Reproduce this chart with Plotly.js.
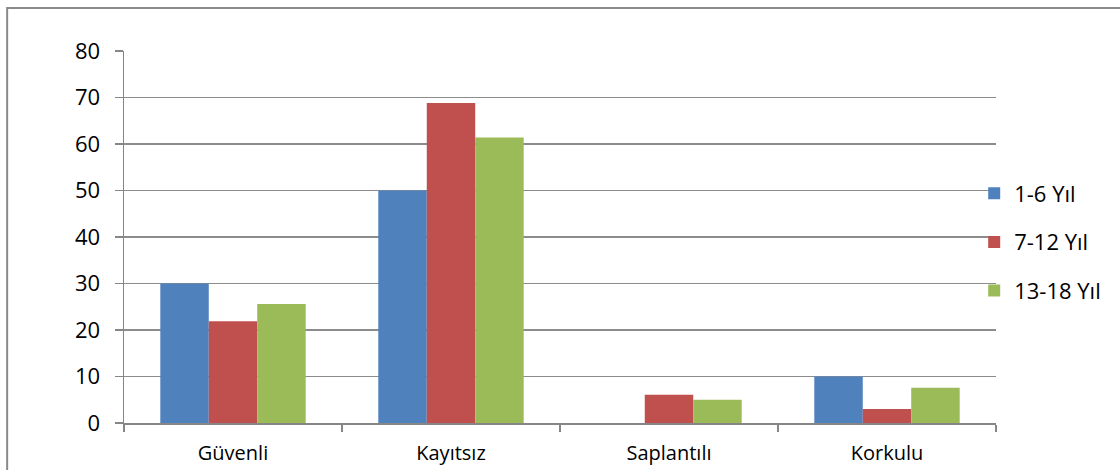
<!DOCTYPE html>
<html>
<head>
<meta charset="utf-8">
<script src="https://cdn.plot.ly/plotly-3.0.1.min.js"></script>
<style>
html,body{margin:0;padding:0;background:#fff;}
#chart{width:1120px;height:470px;}
</style>
</head>
<body>
<div id="chart"></div>
<script>
const categories = ["Güvenli", "Kayıtsız", "Saplantılı", "Korkulu"];
const seriesNames = ["1-6 Yıl", "7-12 Yıl", "13-18 Yıl"];
const values16 = [30, 50, 0, 10];
const values712 = [21.9, 68.8, 6.1, 3.0];
const values1318 = [25.6, 61.4, 5.0, 7.6];
const yTicks = [0, 10, 20, 30, 40, 50, 60, 70, 80];
const colors = ["#4F81BD", "#C0504D", "#9BBB59"];

const allValues = [values16, values712, values1318];
const traces = allValues.map((vals, i) => ({
  type: "bar",
  name: seriesNames[i],
  legendgroup: "g" + i,
  x: categories,
  y: vals,
  marker: {color: colors[i], line: {width: 0}},
  hoverinfo: "x+y+name"
}));

const fam = "Open Sans, Liberation Sans, sans-serif";
const font = {family: fam, size: 21, color: "#000"};

const layout = {
  width: 1120,
  height: 470,
  margin: {l: 124, r: 124, t: 51, b: 47},
  paper_bgcolor: "#fff",
  plot_bgcolor: "#fff",
  font: font,
  barmode: "group",
  bargap: 0.333,
  bargroupgap: 0,
  showlegend: true,
  legend: {
    x: 0.975, xanchor: "left", y: 0.4866, yanchor: "middle",
    font: {family: fam, size: 22, color: "#000"},
    tracegroupgap: 17,
    itemwidth: 30,
    bgcolor: "rgba(0,0,0,0)"
  },
  xaxis: {
    type: "category",
    showline: true, linecolor: "#868686", linewidth: 1.5,
    ticks: "outside", tickson: "boundaries", ticklen: 7, tickcolor: "#868686", tickwidth: 1.5,
    showgrid: false,
    tickfont: {family: fam, size: 20, color: "#000"},
    ticklabelstandoff: 11,
    fixedrange: true
  },
  yaxis: {
    range: [0, 80],
    tickvals: yTicks,
    ticktext: yTicks.map(String),
    showline: true, linecolor: "#868686", linewidth: 1.5,
    ticks: "outside", ticklen: 8, tickcolor: "#868686", tickwidth: 1.5,
    showgrid: true, gridcolor: "#8C8C8C", gridwidth: 1.5,
    zeroline: false,
    tickfont: {family: fam, size: 22, color: "#000"},
    ticklabelstandoff: 10,
    fixedrange: true
  },
  shapes: [{
    type: "rect", xref: "paper", yref: "paper",
    x0: -0.134, x1: 1.3, y0: -0.3, y1: 1.1156,
    line: {color: "#8A8A8A", width: 2},
    fillcolor: "rgba(0,0,0,0)",
    layer: "below"
  }]
};

Plotly.newPlot("chart", traces, layout, {displayModeBar: false, staticPlot: true});
</script>
</body>
</html>
